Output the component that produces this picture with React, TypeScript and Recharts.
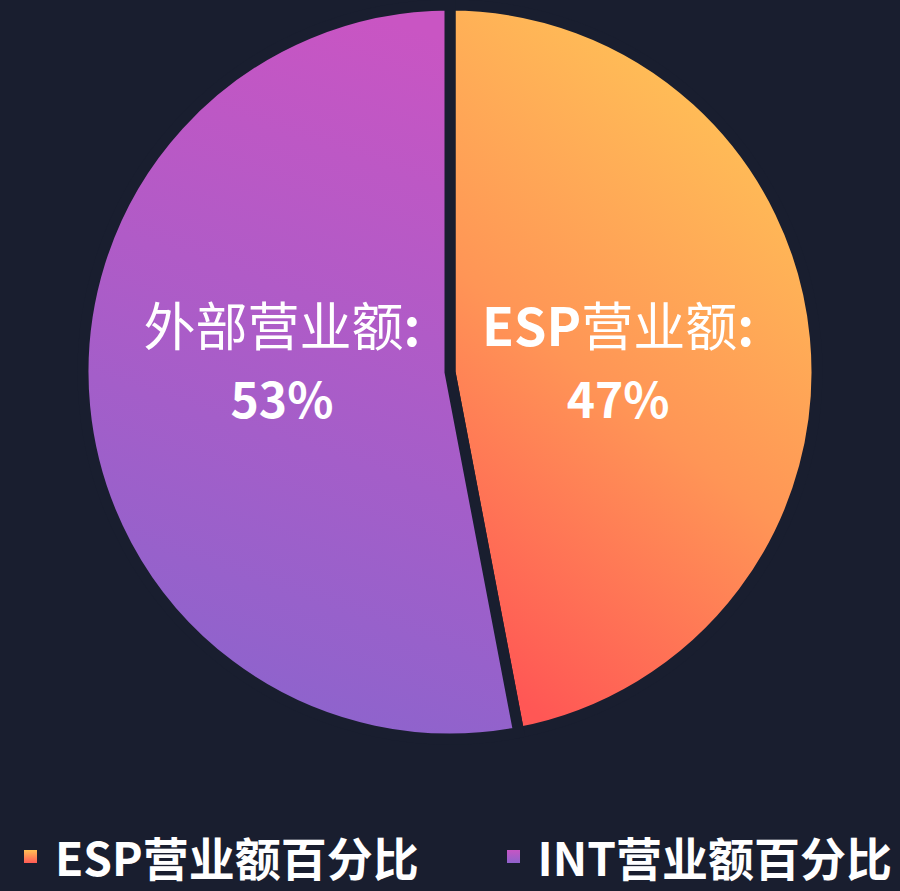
import React from 'react';
import { PieChart, Pie, Cell, Legend } from 'recharts';

const names = ['ESP营业额', '外部营业额'];
const legendNames = ['ESP营业额百分比', 'INT营业额百分比'];
const values = [47, 53];
const gradientIds = ['espGrad', 'intGrad'];

const data = names.map((name, i) => ({ name, legend: legendNames[i], value: values[i] }));

const BG = '#191e2f';
const RAD = Math.PI / 180;

const renderLabel = (props: any) => {
  const { cx, cy, midAngle, outerRadius, name, percent } = props;
  const r = outerRadius * 0.46;
  const x = cx + r * Math.cos(-midAngle * RAD);
  const y = cy - 8;
  const isEsp = name.startsWith('ESP');
  return (
    <text
      x={x}
      y={y}
      textAnchor="middle"
      fill="#fff"
      fontFamily="'Noto Sans CJK SC', 'Noto Sans', sans-serif"
    >
      <tspan x={x} dy={-18} fontSize={52}>
        {isEsp ? <tspan fontWeight={700}>ESP</tspan> : null}
        <tspan fontWeight={400}>{isEsp ? name.slice(3) : name}</tspan>
        <tspan fontWeight={700}>:</tspan>
      </tspan>
      <tspan x={x} dy={72} fontWeight={700} fontSize={48}>
        {Math.round(percent * 100)}%
      </tspan>
    </text>
  );
};

const renderLegend = () => (
  <div
    style={{
      display: 'flex',
      justifyContent: 'space-between',
      alignItems: 'center',
      padding: '0 8px 0 24px',
      fontFamily: "'Noto Sans CJK SC', sans-serif",
      fontWeight: 700,
      fontSize: 46,
      lineHeight: 1,
      color: '#fff',
    }}
  >
    {data.map((d, i) => (
      <div key={d.legend} style={{ display: 'flex', alignItems: 'center' }}>
        <span
          style={{
            display: 'inline-block',
            width: 13,
            height: 13,
            marginRight: 18,
            background: i === 0 ? 'linear-gradient(#ffc155, #ff5a55)' : 'linear-gradient(#c655c4, #8e62cc)',
          }}
        />
        <span>{d.legend}</span>
      </div>
    ))}
  </div>
);

export default function App() {
  return (
    <div style={{ width: 900, height: 891, background: BG }}>
      <style>{`body{margin:0;background:${BG}}`}</style>
      <PieChart width={900} height={891} margin={{ top: 0, right: 0, bottom: 0, left: 0 }}>
        <defs>
          <linearGradient id={gradientIds[0]} x1="0.7" y1="0" x2="0.3" y2="1">
            <stop offset="0%" stopColor="#ffc757" />
            <stop offset="55%" stopColor="#ff9556" />
            <stop offset="100%" stopColor="#ff5755" />
          </linearGradient>
          <linearGradient id={gradientIds[1]} x1="0.6" y1="0" x2="0.4" y2="1">
            <stop offset="0%" stopColor="#c955c3" />
            <stop offset="100%" stopColor="#8b64cd" />
          </linearGradient>
        </defs>
        <Pie
          data={data}
          dataKey="value"
          nameKey="name"
          cx={450}
          cy={372}
          outerRadius={367}
          startAngle={90}
          endAngle={-270}
          stroke={BG}
          strokeWidth={11}
          label={renderLabel}
          labelLine={false}
          isAnimationActive={false}
        >
          {data.map((d, i) => (
            <Cell key={d.name} fill={`url(#${gradientIds[i]})`} />
          ))}
        </Pie>
        <Legend verticalAlign="bottom" content={renderLegend} wrapperStyle={{ bottom: 12 }} />
      </PieChart>
    </div>
  );
}
